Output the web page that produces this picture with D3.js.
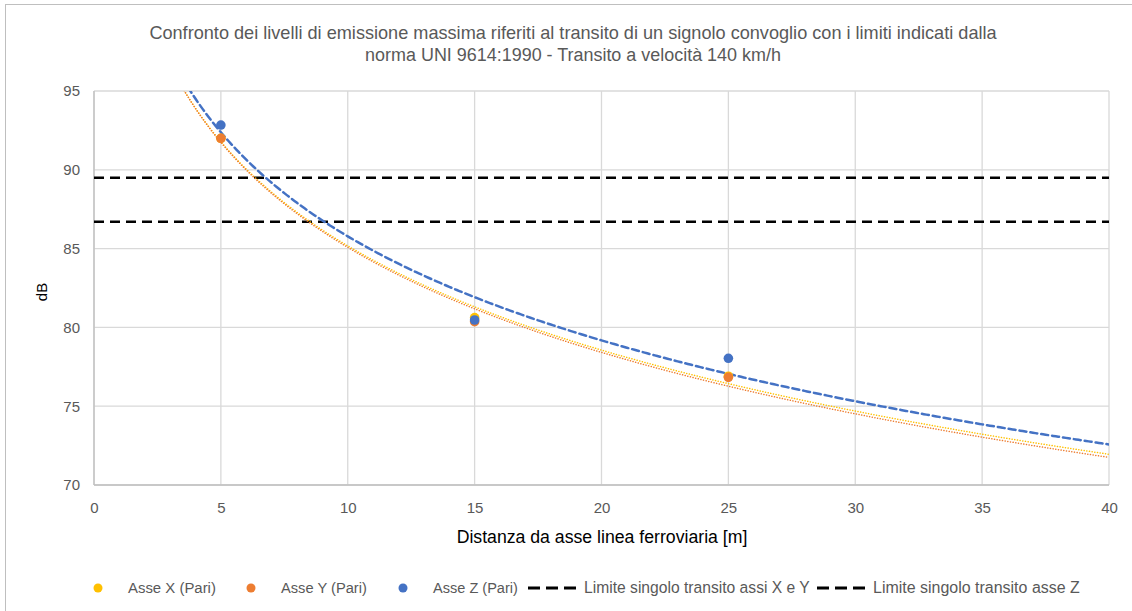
<!DOCTYPE html>
<html><head><meta charset="utf-8">
<script src="https://cdn.jsdelivr.net/npm/d3@7"></script>
<style>body{margin:0;background:#fff}svg{display:block}text{font-family:"Liberation Sans",Arial,sans-serif;fill:#595959}</style>
</head><body>
<svg id="c" width="1132" height="611"></svg>
<script>
// ---- data ----
const distances = [5, 15, 25];
const asseX = [92.0, 80.62, 76.9];
const asseY = [92.0, 80.36, 76.83];
const asseZ = [92.84, 80.47, 78.04];
const limiteXY = 86.7;
const limiteZ = 89.5;
const xTicks = [0, 5, 10, 15, 20, 25, 30, 35, 40];
const yTicks = [70, 75, 80, 85, 90, 95];
const titleLines = ["Confronto dei livelli di emissione massima riferiti al transito di un signolo convoglio con i limiti indicati dalla",
                    "norma UNI 9614:1990 - Transito a velocità 140 km/h"];
const xTitle = "Distanza da asse linea ferroviaria [m]";
const yTitle = "dB";
const legendLabels = ["Asse X (Pari)", "Asse Y (Pari)", "Asse Z (Pari)", "Limite singolo transito assi X e Y", "Limite singolo transito asse Z"];

const colX = "#FFC000", colY = "#ED7D31", colZ = "#4472C4";

const svg = d3.select("#c");
const L = 94, R = 1109, T = 91, B = 485;
const x = d3.scaleLinear().domain([0, 40]).range([L, R]);
const y = d3.scaleLinear().domain([70, 95]).range([B, T]);

function fit(sel, target) {
  const w = sel.node().getComputedTextLength();
  const fs = parseFloat(sel.attr("font-size"));
  sel.attr("font-size", fs * target / w);
}

// outer frame
svg.append("rect").attr("x", 5.5).attr("y", 4.5).attr("width", 1140).attr("height", 620)
  .attr("fill", "none").attr("stroke", "#bfbfbf").attr("stroke-width", 1);

// title
const tw = [[573, 39, 848], [573, 61, 416]];
titleLines.forEach((t, i) => {
  const s = svg.append("text").attr("x", tw[i][0]).attr("y", tw[i][1]).attr("text-anchor", "middle")
    .attr("font-size", 16).text(t);
  fit(s, tw[i][2]);
});

// grid
const g = svg.append("g");
g.selectAll(".vg").data(xTicks).enter().append("line")
  .attr("x1", d => x(d)).attr("x2", d => x(d)).attr("y1", T).attr("y2", B)
  .attr("stroke", "#d9d9d9").attr("stroke-width", 1.3);
g.selectAll(".hg").data(yTicks).enter().append("line")
  .attr("x1", L).attr("x2", R).attr("y1", d => y(d)).attr("y2", d => y(d))
  .attr("stroke", "#d9d9d9").attr("stroke-width", 1.3);
// axis lines
g.append("line").attr("x1", L).attr("x2", L).attr("y1", T).attr("y2", B).attr("stroke", "#bfbfbf").attr("stroke-width", 1.3);
g.append("line").attr("x1", L).attr("x2", R).attr("y1", B).attr("y2", B).attr("stroke", "#bfbfbf").attr("stroke-width", 1.3);

// axes labels via d3 axes
const xAxis = svg.append("g").attr("transform", `translate(0,${B})`)
  .call(d3.axisBottom(x).tickValues(xTicks).tickSize(0).tickPadding(17));
const yAxis = svg.append("g").attr("transform", `translate(${L},0)`)
  .call(d3.axisLeft(y).tickValues(yTicks).tickSize(0).tickPadding(14));
[xAxis, yAxis].forEach(a => {
  a.select(".domain").remove();
  a.selectAll("text").attr("font-size", 15).attr("fill", "#595959")
    .style("font-family", '"Liberation Sans",Arial,sans-serif');
});

// axis titles
const xt = svg.append("text").attr("x", 602).attr("y", 543).attr("text-anchor", "middle").attr("font-size", 16).style("fill", "#000").text(xTitle);
fit(xt, 291);
svg.append("text").attr("transform", "translate(47,292) rotate(-90)").attr("text-anchor", "middle")
  .attr("font-size", 15).style("fill", "#000").text(yTitle);

// clip
svg.append("clipPath").attr("id", "pa").append("rect").attr("x", L).attr("y", T).attr("width", R - L).attr("height", B - T);
const plot = svg.append("g").attr("clip-path", "url(#pa)");

// limit lines
[limiteXY, limiteZ].forEach(v => {
  plot.append("line").attr("x1", L).attr("x2", R).attr("y1", y(v)).attr("y2", y(v))
    .attr("stroke", "#000").attr("stroke-width", 2.5).attr("stroke-dasharray", "10,6");
});

// logarithmic trend lines
function logFit(xs, ys) {
  const lx = xs.map(Math.log);
  const mx = d3.mean(lx), my = d3.mean(ys);
  const b = d3.sum(lx, (v, i) => (v - mx) * (ys[i] - my)) / d3.sum(lx, v => (v - mx) ** 2);
  return { a: my - b * mx, b };
}
const samples = d3.range(2.5, 40.01, 0.1);
const line = d3.line().x(d => x(d[0])).y(d => y(d[1]));
function trend(vals, color, width, dash) {
  const f = logFit(distances, vals);
  plot.append("path").attr("d", line(samples.map(s => [s, f.a + f.b * Math.log(s)])))
    .attr("fill", "none").attr("stroke", color).attr("stroke-width", width)
    .attr("stroke-dasharray", dash).attr("stroke-linecap", "round");
}
trend(asseX, colX, 1.5, "0.1,2.6");
trend(asseY, colY, 1.5, "0.1,2.6");
trend(asseZ, colZ, 2.5, "7,4");

// points
[[asseX, colX], [asseY, colY], [asseZ, colZ]].forEach(([vals, c]) => {
  plot.selectAll(null).data(vals).enter().append("circle")
    .attr("cx", (d, i) => x(distances[i])).attr("cy", d => y(d)).attr("r", 4.8).attr("fill", c);
});

// legend
const ly = 593, lc = 588;
const dots = [[98, colX, 128, 88], [251, colY, 281, 86], [403, colZ, 433, 85]];
dots.forEach((d, i) => {
  svg.append("circle").attr("cx", d[0]).attr("cy", lc).attr("r", 4.5).attr("fill", d[1]);
  const s = svg.append("text").attr("x", d[2]).attr("y", ly).attr("font-size", 14).text(legendLabels[i]);
  fit(s, d[3]);
});
const dashes = [[528, 584, 226], [817, 873, 207]];
dashes.forEach((d, i) => {
  svg.append("line").attr("x1", d[0]).attr("x2", d[0] + 48).attr("y1", lc).attr("y2", lc)
    .attr("stroke", "#000").attr("stroke-width", 3).attr("stroke-dasharray", "12,6");
  const s = svg.append("text").attr("x", d[1]).attr("y", ly).attr("font-size", 14).text(legendLabels[3 + i]);
  fit(s, d[2]);
});
</script>
</body></html>
